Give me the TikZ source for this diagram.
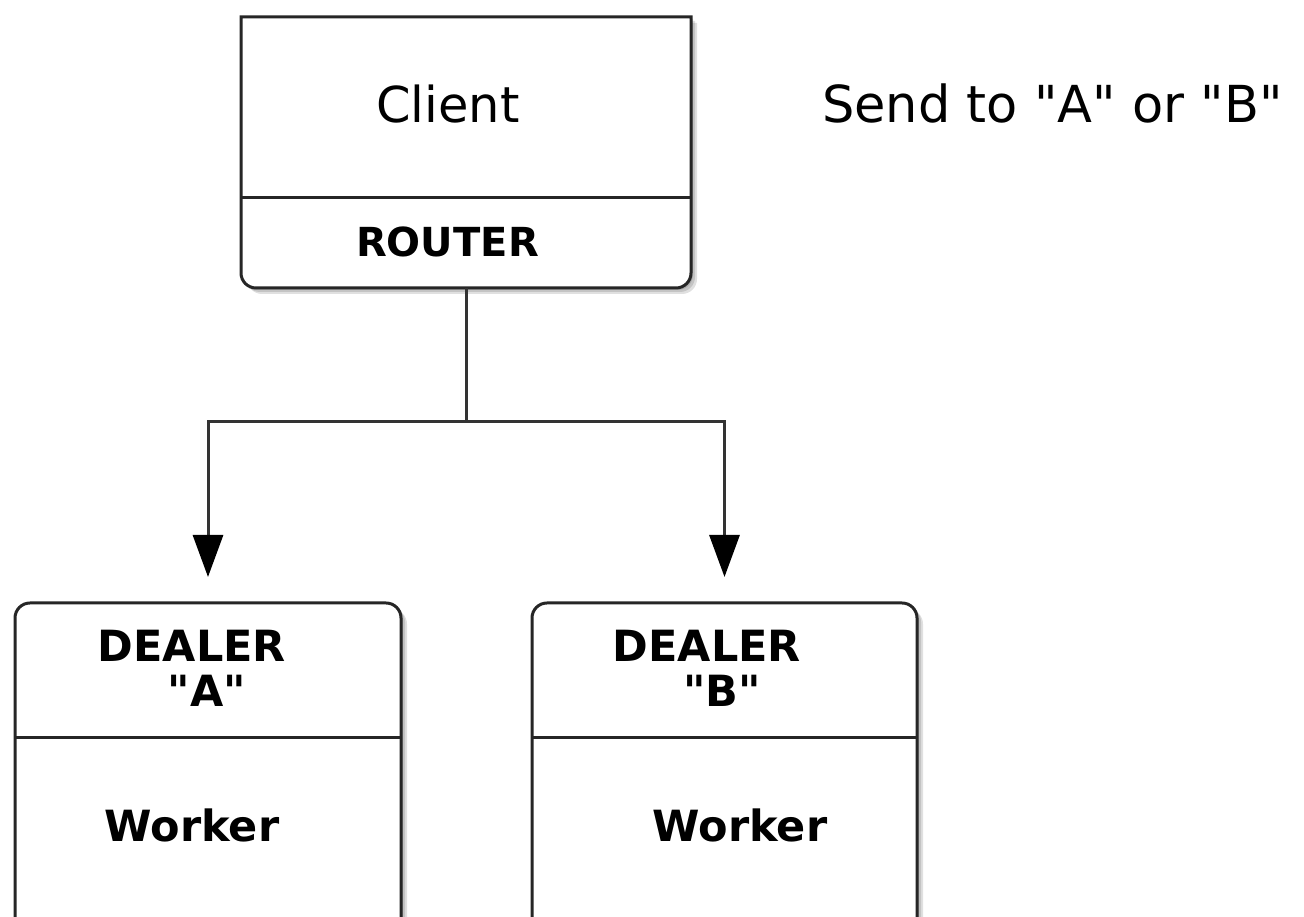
\documentclass[tikz,border=0pt]{standalone}
\usepackage{fontspec}
\setmainfont{DejaVu Sans}[Ligatures=TeXOff]
\usetikzlibrary{arrows.meta}
\begin{document}
\begin{tikzpicture}[x=1pt,y=1pt,
  box/.style={inner sep=0pt, outer sep=0pt},
  outline/.style={draw=black!85, line width=3pt, fill=white},
  shade/.style={fill=black, opacity=0.12},
  divider/.style={draw=black!85, line width=3pt},
  conn/.style={draw=black!80, line width=3pt},
  arr/.style={conn, -{Triangle[length=42pt,width=30pt,fill=black,color=black]}, shorten >=26pt},
  lbl/.style={anchor=base, inner sep=0pt, text=black},
  bigreg/.style={font=\fontsize{49.5}{58}\selectfont},
  midbold/.style={font=\bfseries\fontsize{43}{50}\selectfont},
  clientshape/.style={insert path={(client.north west) -- ([yshift=15pt]client.south west) arc[start angle=180,end angle=270,radius=15pt] -- ([xshift=-15pt]client.south east) arc[start angle=270,end angle=360,radius=15pt] -- (client.north east) -- cycle}},
  dealershape/.style={insert path={(#1.south west) -- ([yshift=-15pt]#1.north west) arc[start angle=180,end angle=90,radius=15pt] -- ([xshift=-15pt]#1.north east) arc[start angle=90,end angle=0,radius=15pt] -- (#1.south east) -- cycle}},
]
\useasboundingbox (0,0) rectangle (1304,917);
\fill[white] (0,0) rectangle (1304,917);

% box placeholders
\node[box, minimum width=450pt, minimum height=271pt] (client) at (466,764.5) {};
\node[box, minimum width=386pt, minimum height=334pt] (boxA) at (208,147) {};
\node[box, minimum width=385pt, minimum height=334pt] (boxB) at (724.5,147) {};

% shadows
\foreach \s in {2,4,6}{
  \fill[shade, transform canvas={shift={(\s pt,-\s pt)}}] [clientshape];
  \fill[shade, transform canvas={shift={(\s pt,-\s pt)}}] [dealershape=boxA];
  \fill[shade, transform canvas={shift={(\s pt,-\s pt)}}] [dealershape=boxB];
}

% outlines
\path[outline] [clientshape];
\path[outline] [dealershape=boxA];
\path[outline] [dealershape=boxB];

% dividers
\draw[divider] ([yshift=90pt]client.south west) -- ([yshift=90pt]client.south east);
\draw[divider] ([yshift=-135pt]boxA.north west) -- ([yshift=-135pt]boxA.north east);
\draw[divider] ([yshift=-135pt]boxB.north west) -- ([yshift=-135pt]boxB.north east);

% texts
\node[lbl, bigreg] (tclient) at (448,794) {Client};
\node[lbl, font=\bfseries\fontsize{40}{48}\selectfont] (trouter) at (447.5,660) {ROUTER};
\node[lbl, anchor=base west, font=\fontsize{51}{60}\selectfont] (tsend) at (822,794) {Send to "A" or "B"};

\node[lbl, midbold] (tdealA) at (192,255) {DEALER};
\node[lbl, midbold] (tqA) at (207,210) {"A"};
\node[lbl, midbold] (tworkA) at (192,75) {Worker};

\node[lbl, midbold] (tdealB) at (707,255) {DEALER};
\node[lbl, midbold] (tqB) at (722,210) {"B"};
\node[lbl, midbold] (tworkB) at (740,75) {Worker};

% connectors
\coordinate (split) at (client.south |- 0,495);
\draw[conn] (client.south) -- (split);
\draw[arr] (split) -| (boxA.north);
\draw[arr] (split) -| (boxB.north);
\end{tikzpicture}
\end{document}
